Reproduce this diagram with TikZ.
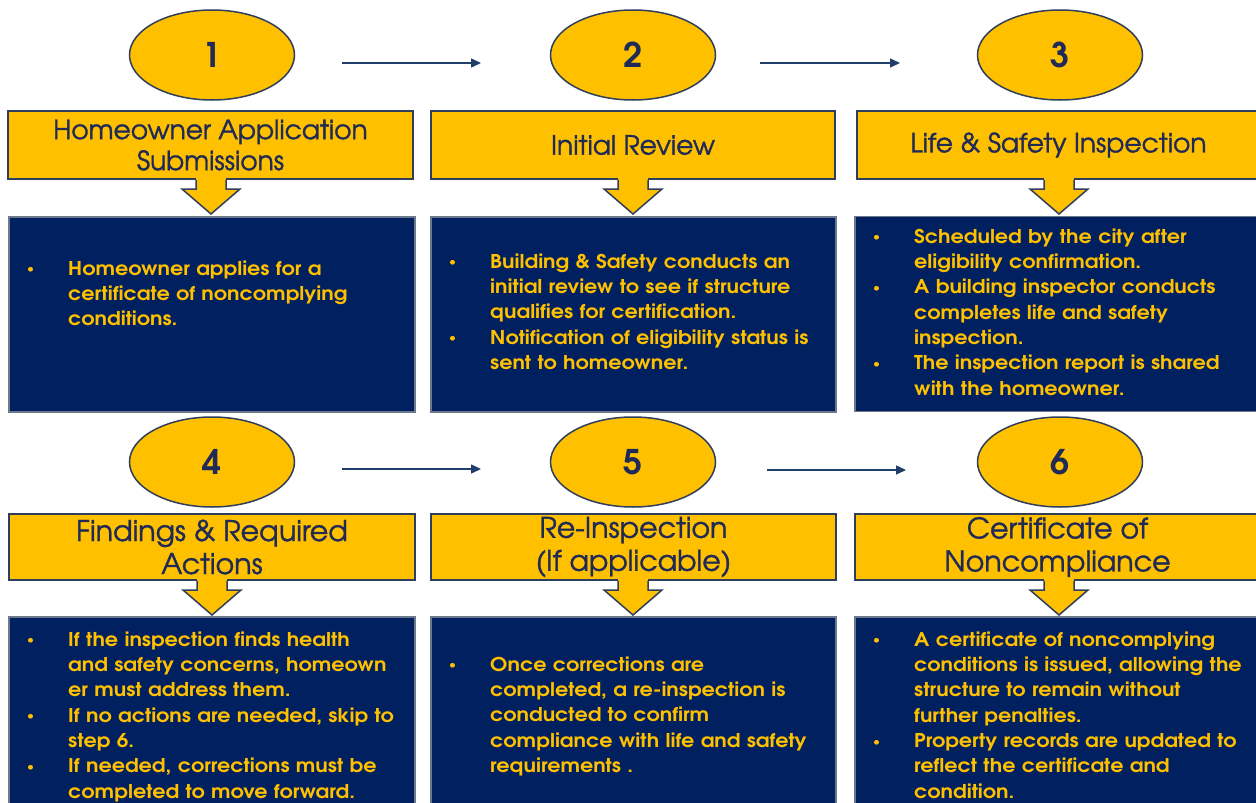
\documentclass[tikz,border=0pt]{standalone}
\usepackage{fontspec}
\setmainfont{TeX Gyre Adventor}
\newfontfamily\bodyfont[FakeStretch=1.09]{TeX Gyre Adventor}
\newfontfamily\hdrfont[FakeBold=1.2]{TeX Gyre Adventor}
\usetikzlibrary{shapes.geometric,arrows.meta}
\definecolor{yel}{HTML}{FFC000}
\definecolor{navy}{HTML}{002060}
\definecolor{edge}{HTML}{2F3E5C}
\definecolor{ink}{HTML}{1F2A56}
\definecolor{arr}{HTML}{1F3F6A}
\newcommand{\nl}{\hfil\break}
\newcommand{\bi}{\par\hangindent=42pt\hangafter=1\noindent\makebox[42pt][l]{\hspace{1pt}\raisebox{2.5pt}{\fontsize{11}{11}\selectfont\textbullet}}}
\tikzset{
  oval/.style={ellipse, draw=edge, line width=1.5pt, fill=yel, minimum width=165pt, minimum height=90pt, inner sep=0pt, text=ink, font=\fontsize{34}{34}\selectfont\bfseries},
  hdr/.style={rectangle, draw=edge, line width=2pt, fill=yel, text=ink, align=center, inner sep=0pt},
  hdrA/.style={hdr, minimum height=68pt, font=\hdrfont\fontsize{26.5}{31}\selectfont},
  hdrB/.style={hdr, minimum height=66pt, font=\hdrfont\fontsize{28.5}{33}\selectfont},
  panel/.style={rectangle, draw=edge!70, line width=1.2pt, fill=navy, inner sep=0pt},
  body/.style={text=yel, text width=390pt, align=left, inner sep=0pt, anchor=base west, font=\bodyfont\bfseries\fontsize{19}{25.3}\selectfont},
  conn/.style={draw=arr, line width=1.5pt, -{Triangle[length=10pt,width=9pt]}},
  darrow/.style={draw=edge, line width=1.5pt, line join=miter}
}
\begin{document}
\begin{tikzpicture}[x=1pt,y=-1pt]
\useasboundingbox (0,0) rectangle (1256,803);
\clip (0,0) rectangle (1256,803);
\fill[white] (0,0) rectangle (1256,803);

% ovals
\node[oval] (o1) at (212,55) {1};
\node[oval] (o2) at (633,55) {2};
\node[oval] (o3) at (1060,55) {3};
\node[oval] (o4) at (212,462) {4};
\node[oval] (o5) at (633,462) {5};
\node[oval] (o6) at (1060,462) {6};

% arrows between ovals
\coordinate (c1) at (342,63); \coordinate (c2) at (481,63);
\coordinate (c3) at (760,63); \coordinate (c4) at (900,63);
\coordinate (c5) at (342,469); \coordinate (c6) at (481,469);
\coordinate (c7) at (767,470); \coordinate (c8) at (906,470);
\draw[conn] (c1) -- (c2);
\draw[conn] (c3) -- (c4);
\draw[conn] (c5) -- (c6);
\draw[conn] (c7) -- (c8);

% panels
\node[panel, minimum width=406pt, minimum height=195pt] (p1) at (212,314.5) {};
\node[panel, minimum width=405pt, minimum height=195pt] (p2) at (633.5,314.5) {};
\node[panel, minimum width=405pt, minimum height=195pt] (p3) at (1057.5,314) {};
\node[panel, minimum width=406pt, minimum height=193pt] (p4) at (212,713.5) {};
\node[panel, minimum width=405pt, minimum height=193pt] (p5) at (633.5,713.5) {};
\node[panel, minimum width=405pt, minimum height=193pt] (p6) at (1057.5,713.5) {};

% headers
\node[hdrA, minimum width=405pt] (h1) at (210.5,145) {Homeowner Application\\Submissions};
\node[hdrA, minimum width=404pt] (h2) at (633,145) {Initial Review};
\node[hdrA, minimum width=403pt] (h3) at (1058.5,145) {Life \& Safety Inspection};
\node[hdrB, minimum width=406pt] (h4) at (212,547) {Findings \& Required\\Actions};
\node[hdrB, minimum width=405pt] (h5) at (633.5,547) {Re-Inspection\\(If applicable)};
\node[hdrB, minimum width=405pt] (h6) at (1057.5,547) {Certificate of\\Noncompliance};

% down arrows
\foreach \x/\y in {211/179, 633/179, 1059/179, 212/580, 633/580, 1059/580}{
  \fill[yel] (\x-15,\y-1.2) rectangle (\x+15,\y+10);
  \fill[yel] (\x-29,\y+10) -- (\x,\y+35) -- (\x+29,\y+10) -- cycle;
  \draw[darrow] (\x-15,\y+0.8) -- (\x-15,\y+10) -- (\x-29,\y+10) -- (\x,\y+35) -- (\x+29,\y+10) -- (\x+15,\y+10) -- (\x+15,\y+0.8);
}

% body texts
\node[body] (t1) at (26,250) {\bi Homeowner applies for a\nl certificate of noncomplying\nl conditions.\par};
\node[body] (t2) at (448,243) {\bi Building \& Safety conducts an\nl initial review to see if structure\nl qualifies for certification.\bi Notification of eligibility status is\nl sent to homeowner.\par};
\node[body] (t3) at (872,218) {\bi Scheduled by the city after\nl eligibility confirmation.\bi A building inspector conducts\nl completes life and safety\nl inspection.\bi The inspection report is shared\nl with the homeowner.\par};
\node[body] (t4) at (26,621) {\bi If the inspection finds health\nl and safety concerns, homeown\nl er must address them.\bi If no actions are needed, skip to\nl step 6.\bi If needed, corrections must be\nl completed to move forward.\par};
\node[body] (t5) at (448,646) {\bi Once corrections are\nl completed, a re-inspection is\nl conducted to confirm\nl compliance with life and safety\nl requirements .\par};
\node[body] (t6) at (872,621) {\bi A certificate of noncomplying\nl conditions is issued, allowing the\nl structure to remain without\nl further penalties.\bi Property records are updated to\nl reflect the certificate and\nl condition.\par};
\end{tikzpicture}
\end{document}
